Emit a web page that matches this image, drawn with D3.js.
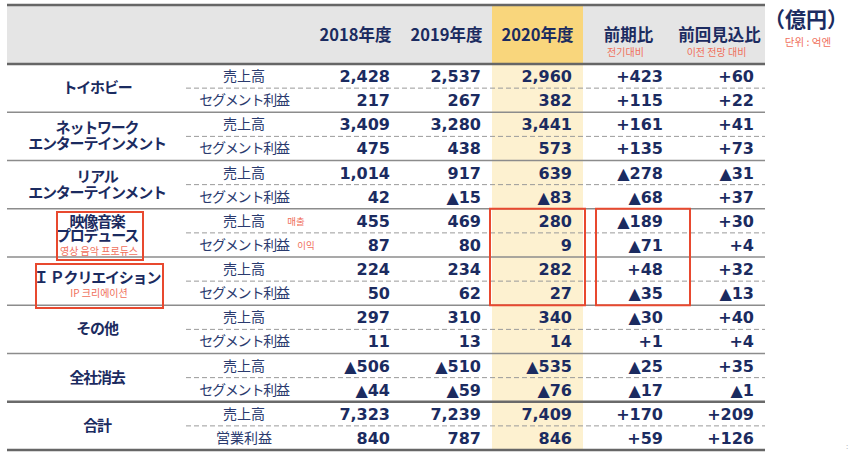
<!DOCTYPE html>
<html><head><meta charset="utf-8">
<script src="https://cdn.jsdelivr.net/npm/d3@7"></script>
<style>
html,body{margin:0;padding:0;background:#fff;}
svg{display:block;}
</style></head>
<body>
<svg id="chart" width="850" height="459"></svg>
<script>
const columns = ["2018年度","2019年度","2020年度","前期比","前回見込比"];
const columnSubs = ["","","","전기대비","이전 전망 대비"];
const segments = ["トイホビー","ネットワーク\nエンターテインメント","リアル\nエンターテインメント","映像音楽\nプロデュース","Ｉ Ｐクリエイション","その他","全社消去","合計"];
const segmentKo = ["","","","영상 음악 프로듀스","IP 크리에이션","","",""];
const rowLabels = ["売上高","セグメント利益","売上高","セグメント利益","売上高","セグメント利益","売上高","セグメント利益","売上高","セグメント利益","売上高","セグメント利益","売上高","セグメント利益","売上高","営業利益"];
const y2018 = [2428,217,3409,475,1014,42,455,87,224,50,297,11,-506,-44,7323,840];
const y2019 = [2537,267,3280,438,917,-15,469,80,234,62,310,13,-510,-59,7239,787];
const y2020 = [2960,382,3441,573,639,-83,280,9,282,27,340,14,-535,-76,7409,846];
const yoy = [423,115,161,135,-278,-68,-189,-71,48,-35,-30,1,-25,-17,170,59];
const vsForecast = [60,22,41,73,-31,37,30,4,32,-13,40,4,35,-1,209,126];

const series = [y2018,y2019,y2020,yoy,vsForecast];
const isDiff = [false,false,false,true,true];

const svg = d3.select("#chart");
const navy = "#1b2b60";
const coral = "#f0705c";
const red = "#e8492f";
const jp = "'Noto Sans CJK JP', sans-serif";
const num = "'DejaVu Sans', Verdana, sans-serif";

const x = d3.scaleBand().domain(columns).range([310,765]);
const rows = d3.range(rowLabels.length);
const y = d3.scaleBand().domain(rows).range([64,450]);
const g = d3.scaleBand().domain(d3.range(segments.length)).range([64,450]);

// header background
svg.append("rect").attr("x",7).attr("y",5).attr("width",758).attr("height",59).attr("fill","#e5e5e5");
// highlight column
svg.append("rect").attr("x",x("2020年度")).attr("y",5).attr("width",x.bandwidth()).attr("height",59).attr("fill","#f9d67c");
svg.append("rect").attr("x",x("2020年度")).attr("y",64).attr("width",x.bandwidth()).attr("height",386).attr("fill","#fdf1d0");

// header texts
svg.selectAll("text.head").data(columns).join("text")
  .attr("x",d=>x(d)+x.bandwidth()/2).attr("y",41)
  .attr("text-anchor","middle").attr("font-family",jp).attr("font-weight","bold")
  .attr("font-size",16.5).attr("fill",navy).text(d=>d);
svg.selectAll("text.headsub").data(columns).join("text")
  .attr("x",d=>x(d)+x.bandwidth()/2-3).attr("y",56)
  .attr("text-anchor","middle").attr("font-family",jp)
  .attr("font-size",10).attr("fill",coral).text((d,i)=>columnSubs[i]);

svg.append("text").attr("x",806).attr("y",27).attr("text-anchor","middle")
  .attr("font-family",jp).attr("font-weight","bold").attr("font-size",21).attr("fill",navy).text("（億円）");
svg.append("text").attr("x",808).attr("y",46).attr("text-anchor","middle")
  .attr("font-family",jp).attr("font-size",10.5).attr("fill",coral).text("단위 : 억엔");

// lines
const lines = svg.append("g");
rows.filter(r=>r%2===1).forEach(r=>{
  lines.append("line").attr("x1",186).attr("x2",765).attr("y1",y(r)).attr("y2",y(r))
    .attr("stroke","#9a9a9a").attr("stroke-width",1).attr("stroke-dasharray","5,3");
});
d3.range(1,segments.length).forEach(i=>{
  const yy = g(i);
  const thick = i===segments.length-1;
  lines.append("line").attr("x1",7).attr("x2",765).attr("y1",yy).attr("y2",yy)
    .attr("stroke",thick?"#6a6a6a":"#8c8c8c").attr("stroke-width",thick?2.5:1.3);
});
[5,64,450].forEach(yy=>{
  lines.append("line").attr("x1",7).attr("x2",765).attr("y1",yy).attr("y2",yy)
    .attr("stroke","#666").attr("stroke-width",2.5);
});

// segment names
segments.forEach((s,i)=>{
  const parts = s.split("\n");
  const cy = g(i)+g.bandwidth()/2;
  const hasKo = segmentKo[i]!=="";
  let lh = 16;
  let base = cy - (parts.length-1)*lh/2 + 5;
  if(hasKo){ base -= 3; lh = 14; }
  const t = svg.append("text").attr("text-anchor","middle")
      .attr("font-family",jp).attr("font-weight","bold").attr("font-size",15)
      .attr("letter-spacing",-1.2).attr("fill",navy);
  parts.forEach((p,k)=>{
    t.append("tspan").attr("x",97).attr("y",base+k*lh).text(p);
  });
  if(hasKo){
    svg.append("text").attr("x",99).attr("y",base+(parts.length-1)*lh+14).attr("text-anchor","middle")
      .attr("font-family",jp).attr("font-size",10).attr("fill",coral).text(segmentKo[i]);
  }
});

// row labels
svg.selectAll("text.rl").data(rows).join("text")
  .attr("x",244).attr("y",r=>y(r)+y.bandwidth()/2+5)
  .attr("text-anchor","middle").attr("font-family",jp).attr("font-size",14)
  .attr("letter-spacing",r=>rowLabels[r]==="セグメント利益"?-1.2:0)
  .attr("fill","#2a3a6e").text(r=>rowLabels[r]);
svg.append("text").attr("x",296).attr("y",y(6)+y.bandwidth()/2+4).attr("text-anchor","middle")
  .attr("font-family",jp).attr("font-size",9.5).attr("fill",coral).text("매출");
svg.append("text").attr("x",306).attr("y",y(7)+y.bandwidth()/2+4).attr("text-anchor","middle")
  .attr("font-family",jp).attr("font-size",9.5).attr("fill",coral).text("이익");

// numbers
const fmt = d3.format(",");
columns.forEach((c,ci)=>{
  svg.selectAll("text.v"+ci).data(series[ci]).join("text")
    .attr("x",x(c)+x.bandwidth()-11).attr("y",(d,r)=>y(r)+y.bandwidth()/2+6)
    .attr("text-anchor","end").attr("font-family",num).attr("font-weight","bold")
    .attr("font-size",16).attr("fill",navy)
    .text(d=>(d<0?"▲":(isDiff[ci]?"+":""))+fmt(Math.abs(d)));
});

// red boxes
const box = (x0,y0,w,h)=>svg.append("rect").attr("x",x0).attr("y",y0).attr("width",w).attr("height",h)
  .attr("fill","none").attr("stroke",red).attr("stroke-width",2);
box(x("2020年度")-2,y(6),x.bandwidth()+4,y(10)-y(6));
box(x("前期比")+13,y(6),x.bandwidth()+3,y(10)-y(6));
box(57,212,86,48);
box(36,264,127,44);

svg.append("text").attr("x",846).attr("y",449).attr("font-size",8).attr("fill","#999").text(":");
</script>
</body></html>
